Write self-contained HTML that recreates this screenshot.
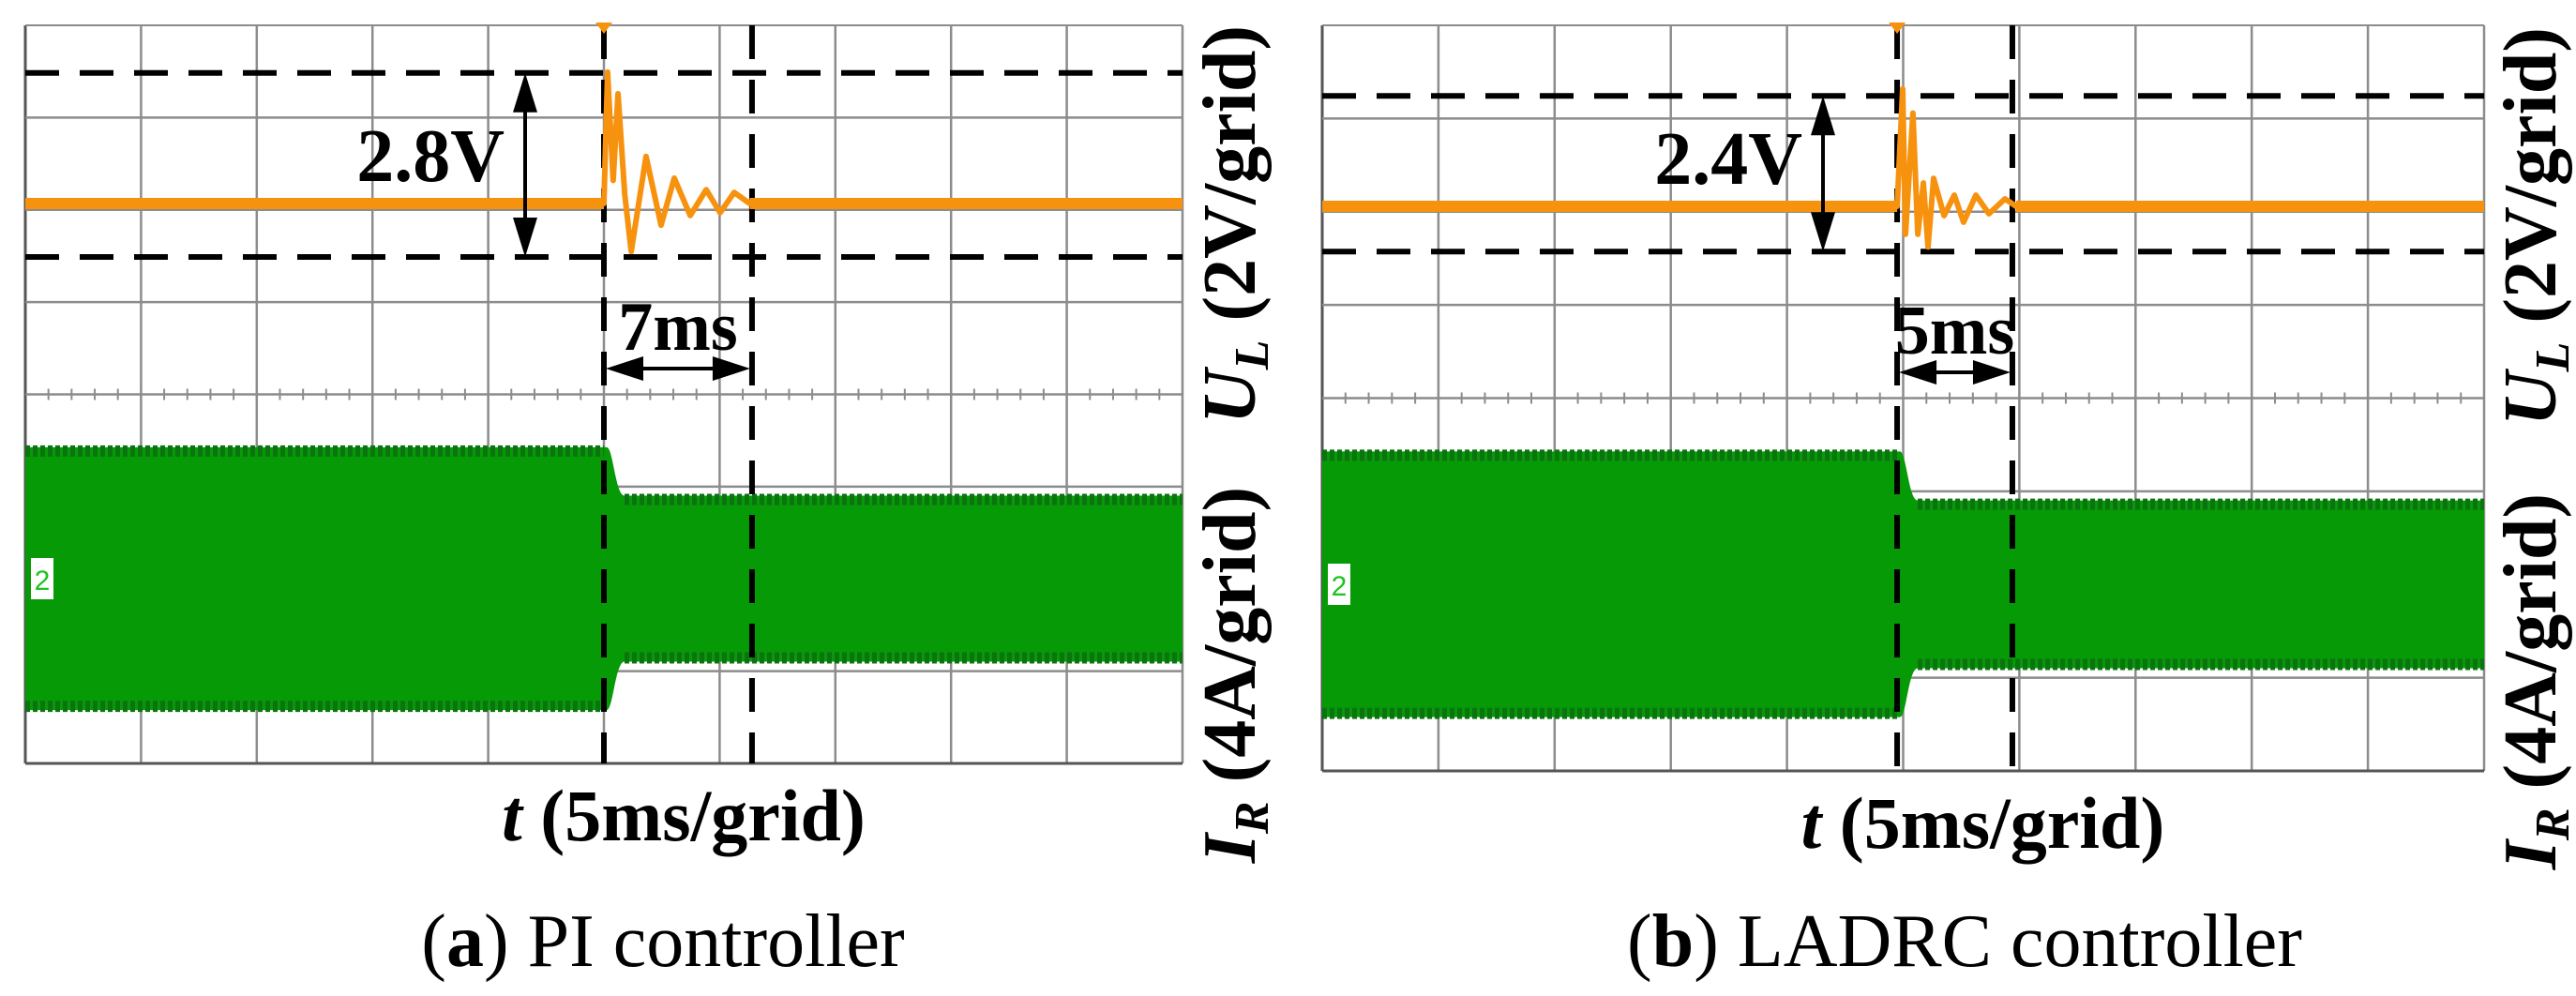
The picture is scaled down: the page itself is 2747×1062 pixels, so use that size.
<!DOCTYPE html>
<html><head><meta charset="utf-8"><style>
html,body{margin:0;padding:0;background:#fff;}
svg{display:block;}
</style></head><body>
<svg id="fig" width="2747" height="1062" viewBox="0 0 2747 1062" xmlns="http://www.w3.org/2000/svg" font-family="Liberation Serif, serif">
<rect width="2747" height="1062" fill="#fff"/>
<g id="pa"></g>
<g id="pb"></g>
</svg>
<script>
// ---- data (ms, V / A) ----
const timeRangeMs = [0, 50];
const eventTimeA = 25.0;
const settleTimeA = 31.4;
const ringTimesA = [25.0, 25.16, 25.4, 25.61, 25.9, 26.18, 26.82, 27.47, 28.04, 28.73, 29.42, 30.02, 30.63, 31.3];
const ringVoltsA = [0, 2.85, 0.5, 2.38, 0.2, -1.04, 1.02, -0.47, 0.55, -0.26, 0.3, -0.2, 0.24, 0];
const overshootLabelA = "2.8V";
const settleLabelA = "7ms";
const overshootRangeA = [2.83, -1.16];
const currentBeforeA = 5.7;
const currentAfterA = 3.6;

const eventTimeB = 24.74;
const settleTimeB = 29.7;
const ringTimesB = [24.74, 24.98, 25.1, 25.42, 25.63, 25.87, 26.07, 26.31, 26.76, 27.2, 27.6, 28.13, 28.69, 29.38, 29.86];
const ringVoltsB = [0, 2.52, -0.6, 2.0, -0.6, 0.5, -0.87, 0.6, -0.2, 0.24, -0.34, 0.24, -0.16, 0.16, 0];
const overshootLabelB = "2.4V";
const settleLabelB = "5ms";
const overshootRangeB = [2.37, -0.97];
const currentBeforeB = 5.7;
const currentAfterB = 3.6;

const NS = "http://www.w3.org/2000/svg";
function mk(parent, tag, attrs){const e=document.createElementNS(NS,tag);for(const k in attrs)e.setAttribute(k,attrs[k]);parent.appendChild(e);return e;}

function drawPanel(g, geo, d){
  const {x0,x1,y0,y1} = geo;
  const W=x1-x0, H=y1-y0, rowH=H/8;
  const xs = t => x0 + (t - timeRangeMs[0])/(timeRangeMs[1]-timeRangeMs[0])*W;
  const vBase = geo.vBase, vPx = rowH/2;   // 2V per grid
  const ys = v => vBase - v*vPx;
  const iBase = geo.iBase, iPx = rowH/4;   // 4A per grid
  const yi = a => iBase - a*iPx;

  // grid
  const grid = mk(g,'g',{});
  
  
  for(let i=0;i<=10;i++){
    mk(grid,'line',{x1:x0+i*W/10,x2:x0+i*W/10,y1:y0,y2:y1,stroke:i==0?'#555':'#8c8c8c','stroke-width':i==0?3:2.5});
  }
  for(let j=0;j<=8;j++){
    mk(grid,'line',{x1:x0,x2:x1,y1:y0+j*rowH,y2:y0+j*rowH,stroke:(j==8)?'#555':'#8c8c8c','stroke-width':j==0?2:(j==8?3:2.5)});
  }
  const ym = y0+4*rowH;
  for(let k=1;k<50;k++){
    mk(grid,'line',{x1:x0+k*W/50,x2:x0+k*W/50,y1:ym-6,y2:ym+6,stroke:'#8c8c8c','stroke-width':2});
  }

  // current band (green)
  const ev = xs(d.ev);
  const tr = 22;
  const band = mk(g,'path',{fill:'#079a07',
    d:`M${x0},${yi(d.iB)} L${ev+3},${yi(d.iB)} C${ev+10},${yi(d.iB)} ${ev+12},${yi(d.iA)} ${ev+tr},${yi(d.iA)} L${x1},${yi(d.iA)} L${x1},${yi(-d.iA)} L${ev+tr},${yi(-d.iA)} C${ev+12},${yi(-d.iA)} ${ev+10},${yi(-d.iB)} ${ev+3},${yi(-d.iB)} L${x0},${yi(-d.iB)} Z`});
  
  
  const fr = mk(g,'g',{stroke:'#0b7410','stroke-width':12,fill:'none','stroke-dasharray':'5 3'});
  
  
  mk(fr,'line',{x1:x0,x2:ev,y1:yi(d.iB)+4,y2:yi(d.iB)+4});
  mk(fr,'line',{x1:x0,x2:ev,y1:yi(-d.iB)-4,y2:yi(-d.iB)-4});
  mk(fr,'line',{x1:ev+tr,x2:x1,y1:yi(d.iA)+4,y2:yi(d.iA)+4});
  mk(fr,'line',{x1:ev+tr,x2:x1,y1:yi(-d.iA)-4,y2:yi(-d.iA)-4});
  const cm = mk(g,'rect',{x:x0+6,y:iBase-22,width:24,height:44,fill:'#fff'});
  
  
  const ct = mk(g,'text',{x:x0+18,y:iBase+12,'font-family':'Liberation Sans, sans-serif','font-size':30,fill:'#1cc41c','text-anchor':'middle'});
  ct.textContent='2';
  
  

  // dashed annotation lines
  const dash = mk(g,'g',{stroke:'#000','stroke-width':6,'stroke-dasharray':'36 22',fill:'none'});
  
  
  mk(dash,'line',{x1:x0,x2:x1,y1:ys(d.range[0]),y2:ys(d.range[0])});
  mk(dash,'line',{x1:x0,x2:x1,y1:ys(d.range[1]),y2:ys(d.range[1])});
  mk(dash,'line',{x1:ev,x2:ev,y1:y0,y2:y1});
  mk(dash,'line',{x1:xs(d.st),x2:xs(d.st),y1:y0,y2:y1});

  // voltage trace (orange)
  let p = `M${x0},${ys(0)} `;
  for(let i=0;i<d.rt.length;i++) p += `L${xs(d.rt[i])},${ys(d.rv[i])} `;
  p += `L${x1},${ys(0)}`;
  const vt = mk(g,'path',{d:p,stroke:'#f7920f','stroke-width':6,fill:'none','stroke-linejoin':'round'});
  
  
  const vb = mk(g,'line',{x1:x0,x2:ev,y1:ys(0),y2:ys(0),stroke:'#f7920f','stroke-width':12});
  
  
  const vb2 = mk(g,'line',{x1:xs(d.rt[d.rt.length-1]),x2:x1,y1:ys(0),y2:ys(0),stroke:'#f7920f','stroke-width':12});
  
  
  const trig = mk(g,'path',{d:`M${ev-9},${y0-3} L${ev+9},${y0-3} L${ev},${y0+9} Z`,fill:'#f7920f'});
  
  

  // vertical overshoot arrow
  const ax = geo.arrowX, yt=ys(d.range[0]), yb=ys(d.range[1]);
  const ar = mk(g,'g',{fill:'#000',stroke:'#000'});
  
  
  mk(ar,'line',{x1:ax,x2:ax,y1:yt+20,y2:yb-20,'stroke-width':4});
  mk(ar,'path',{d:`M${ax},${yt} L${ax-13},${yt+42} L${ax+13},${yt+42} Z`,stroke:'none'});
  mk(ar,'path',{d:`M${ax},${yb} L${ax-13},${yb-42} L${ax+13},${yb-42} Z`,stroke:'none'});
  const ol = mk(g,'text',{x:ax-22,y:ys(0)-24,'font-size':80,'font-weight':'bold','text-anchor':'end',fill:'#000'});
  ol.textContent=d.ol;
  
  

  // horizontal settling arrow
  const ha = mk(g,'g',{fill:'#000',stroke:'#000'});
  
  
  const hy = geo.hArrowY, xa=ev, xb=xs(d.st);
  mk(ha,'line',{x1:xa+20,x2:xb-20,y1:hy,y2:hy,'stroke-width':4});
  mk(ha,'path',{d:`M${xa+2},${hy} L${xa+42},${hy-13} L${xa+42},${hy+13} Z`,stroke:'none'});
  mk(ha,'path',{d:`M${xb-2},${hy} L${xb-42},${hy-13} L${xb-42},${hy+13} Z`,stroke:'none'});
  const sl = mk(g,'text',{x:(xa+xb)/2,y:hy-20,'font-size':74,'font-weight':'bold','text-anchor':'middle',fill:'#000'});
  sl.textContent=d.sl;
  
  

  // x label
  const xl = mk(g,'text',{x:(x0+x1)/2+85,y:y1+82,'font-size':78,'font-weight':'bold','text-anchor':'middle',fill:'#000'});
  xl.innerHTML='<tspan font-style="italic">t</tspan>  (5ms/grid)';
  
  

  // right labels
  const rx = geo.labelX;
  const ul = mk(g,'text',{transform:`translate(${rx},${y0+H*0.27}) rotate(-90)`,'font-size':80,'font-weight':'bold','text-anchor':'middle',fill:'#000'});
  ul.innerHTML='<tspan font-style="italic">U</tspan><tspan font-style="italic" font-size="52" dy="14">L</tspan><tspan dy="-14"> (2V/grid)</tspan>';
  
  
  const il = mk(g,'text',{transform:`translate(${rx},${y0+H*0.88}) rotate(-90)`,'font-size':80,'font-weight':'bold','text-anchor':'middle',fill:'#000'});
  il.innerHTML='<tspan font-style="italic">I</tspan><tspan font-style="italic" font-size="52" dy="14">R</tspan><tspan dy="-14"> (4A/grid)</tspan>';
  
  

  // caption
  const cap = mk(g,'text',{x:geo.capX,y:1030,'font-size':80,'text-anchor':'middle',fill:'#000'});
  cap.innerHTML=d.cap;
  
  
}

drawPanel(document.getElementById('pa'),
  {x0:27,x1:1261,y0:27,y1:814,vBase:217,iBase:617,arrowX:560,hArrowY:393,labelX:1338,capX:707},
  {ev:eventTimeA,st:settleTimeA,rt:ringTimesA,rv:ringVoltsA,range:overshootRangeA,ol:overshootLabelA,sl:settleLabelA,iB:currentBeforeA,iA:currentAfterA,
   cap:'(<tspan font-weight="bold">a</tspan>) PI controller'});
drawPanel(document.getElementById('pb'),
  {x0:1410,x1:2649,y0:27,y1:822,vBase:220,iBase:623,arrowX:1944,hArrowY:397,labelX:2725,capX:2095},
  {ev:eventTimeB,st:settleTimeB,rt:ringTimesB,rv:ringVoltsB,range:overshootRangeB,ol:overshootLabelB,sl:settleLabelB,iB:currentBeforeB,iA:currentAfterB,
   cap:'(<tspan font-weight="bold">b</tspan>) LADRC controller'});
</script>
</body></html>
